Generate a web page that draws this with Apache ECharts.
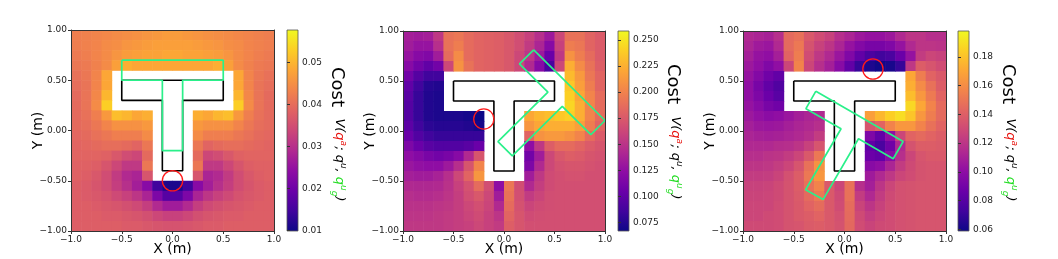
<!DOCTYPE html>
<html><head><meta charset="utf-8">
<script src="https://cdn.jsdelivr.net/npm/echarts@6/dist/echarts.min.js"></script>
<style>html,body{margin:0;padding:0;background:#fff}#c{width:1058px;height:259px}</style>
</head><body><div id="c"></div>
<script>
const _ = null;
// cell centres (m)
const xCenters = [-0.95,-0.85,-0.75,-0.65,-0.55,-0.45,-0.35,-0.25,-0.15,-0.05,0.05,0.15,0.25,0.35,0.45,0.55,0.65,0.75,0.85,0.95];
const yCenters = [0.95,0.85,0.75,0.65,0.55,0.45,0.35,0.25,0.15,0.05,-0.05,-0.15,-0.25,-0.35,-0.45,-0.55,-0.65,-0.75,-0.85,-0.95];
const axisTicks = [-1, -0.5, 0, 0.5, 1];

// cost values, rows top (y=0.95) to bottom (y=-0.95); null = obstacle (white)
const cost1 = [
[0.0424,0.0429,0.0433,0.0438,0.0443,0.0448,0.0452,0.0457,0.0462,0.0467,0.0467,0.0462,0.0457,0.0452,0.0448,0.0443,0.0438,0.0433,0.0429,0.0424],
[0.0424,0.0429,0.0433,0.0443,0.0448,0.0457,0.0462,0.0467,0.0472,0.0472,0.0472,0.0472,0.0467,0.0462,0.0457,0.0448,0.0443,0.0433,0.0429,0.0424],
[0.0419,0.0424,0.0433,0.0443,0.0457,0.0467,0.0472,0.0476,0.0476,0.0481,0.0481,0.0476,0.0476,0.0472,0.0467,0.0457,0.0443,0.0433,0.0424,0.0419],
[0.0414,0.0419,0.0429,0.0443,0.0472,0.0491,0.0481,0.0481,0.0481,0.0481,0.0481,0.0481,0.0481,0.0481,0.0491,0.0472,0.0443,0.0429,0.0419,0.0414],
[0.0405,0.0414,0.0433,0.0481,_,_,_,_,_,_,_,_,_,_,_,_,0.0481,0.0433,0.0414,0.0405],
[0.0400,0.0409,0.0433,0.0481,_,_,_,_,_,_,_,_,_,_,_,_,0.0481,0.0433,0.0409,0.0400],
[0.0395,0.0409,0.0438,0.0500,_,_,_,_,_,_,_,_,_,_,_,_,0.0500,0.0438,0.0409,0.0395],
[0.0395,0.0409,0.0443,0.0529,_,_,_,_,_,_,_,_,_,_,_,_,0.0529,0.0443,0.0409,0.0395],
[0.0395,0.0405,0.0424,0.0462,0.0510,0.0500,0.0481,0.0491,_,_,_,_,0.0491,0.0481,0.0500,0.0510,0.0462,0.0424,0.0405,0.0395],
[0.0395,0.0400,0.0414,0.0433,0.0452,0.0452,0.0452,0.0462,_,_,_,_,0.0462,0.0452,0.0452,0.0452,0.0433,0.0414,0.0400,0.0395],
[0.0390,0.0395,0.0405,0.0414,0.0424,0.0424,0.0424,0.0443,_,_,_,_,0.0443,0.0424,0.0424,0.0424,0.0414,0.0405,0.0395,0.0390],
[0.0385,0.0390,0.0395,0.0400,0.0400,0.0395,0.0385,0.0414,_,_,_,_,0.0414,0.0385,0.0395,0.0400,0.0400,0.0395,0.0390,0.0385],
[0.0385,0.0385,0.0385,0.0381,0.0366,0.0347,0.0338,0.0395,_,_,_,_,0.0395,0.0338,0.0347,0.0366,0.0381,0.0385,0.0385,0.0385],
[0.0381,0.0381,0.0376,0.0361,0.0338,0.0314,0.0314,0.0414,_,_,_,_,0.0414,0.0314,0.0314,0.0338,0.0361,0.0376,0.0381,0.0381],
[0.0381,0.0376,0.0366,0.0347,0.0318,0.0290,0.0280,0.0361,_,_,_,_,0.0361,0.0280,0.0290,0.0318,0.0347,0.0366,0.0376,0.0381],
[0.0376,0.0371,0.0361,0.0347,0.0323,0.0299,0.0270,0.0232,0.0146,0.0112,0.0112,0.0146,0.0232,0.0270,0.0299,0.0323,0.0347,0.0361,0.0371,0.0376],
[0.0376,0.0371,0.0366,0.0357,0.0342,0.0328,0.0309,0.0280,0.0218,0.0170,0.0170,0.0218,0.0280,0.0309,0.0328,0.0342,0.0357,0.0366,0.0371,0.0376],
[0.0376,0.0376,0.0371,0.0366,0.0361,0.0352,0.0342,0.0323,0.0290,0.0266,0.0266,0.0290,0.0323,0.0342,0.0352,0.0361,0.0366,0.0371,0.0376,0.0376],
[0.0376,0.0376,0.0376,0.0371,0.0371,0.0366,0.0361,0.0352,0.0338,0.0328,0.0328,0.0338,0.0352,0.0361,0.0366,0.0371,0.0371,0.0376,0.0376,0.0376],
[0.0376,0.0376,0.0376,0.0376,0.0376,0.0371,0.0371,0.0366,0.0361,0.0357,0.0357,0.0361,0.0366,0.0371,0.0371,0.0376,0.0376,0.0376,0.0376,0.0376]
];
const cost2 = [
[0.136,0.134,0.136,0.153,0.190,0.193,0.186,0.182,0.180,0.178,0.174,0.167,0.159,0.147,0.132,0.163,0.190,0.190,0.182,0.176],
[0.134,0.128,0.128,0.147,0.190,0.197,0.186,0.182,0.180,0.178,0.174,0.167,0.155,0.140,0.120,0.159,0.197,0.193,0.182,0.176],
[0.128,0.120,0.117,0.134,0.186,0.205,0.186,0.182,0.180,0.178,0.174,0.163,0.151,0.132,0.105,0.153,0.209,0.197,0.186,0.176],
[0.120,0.109,0.101,0.109,0.163,0.209,0.190,0.182,0.180,0.178,0.174,0.163,0.143,0.120,0.090,0.163,0.224,0.205,0.190,0.178],
[0.109,0.095,0.086,0.086,_,_,_,_,_,_,_,_,_,_,_,_,0.230,0.213,0.193,0.182],
[0.101,0.086,0.076,0.074,_,_,_,_,_,_,_,_,_,_,_,_,0.236,0.216,0.197,0.182],
[0.097,0.082,0.074,0.072,_,_,_,_,_,_,_,_,_,_,_,_,0.240,0.220,0.201,0.186],
[0.095,0.082,0.074,0.072,_,_,_,_,_,_,_,_,_,_,_,_,0.243,0.224,0.201,0.186],
[0.095,0.082,0.074,0.072,0.072,0.072,0.070,0.067,_,_,_,_,0.220,0.228,0.232,0.236,0.240,0.224,0.201,0.186],
[0.099,0.086,0.078,0.076,0.076,0.076,0.074,0.070,_,_,_,_,0.211,0.220,0.224,0.224,0.224,0.216,0.197,0.182],
[0.105,0.094,0.086,0.082,0.082,0.082,0.082,0.082,_,_,_,_,0.182,0.209,0.213,0.213,0.209,0.201,0.186,0.176],
[0.115,0.105,0.097,0.094,0.094,0.094,0.097,0.105,_,_,_,_,0.124,0.153,0.178,0.186,0.186,0.182,0.176,0.172],
[0.124,0.119,0.113,0.109,0.113,0.120,0.143,0.172,_,_,_,_,0.109,0.134,0.163,0.174,0.178,0.176,0.172,0.170],
[0.130,0.126,0.124,0.124,0.132,0.147,0.172,0.201,_,_,_,_,0.115,0.143,0.163,0.170,0.172,0.172,0.170,0.168],
[0.136,0.134,0.134,0.138,0.147,0.163,0.182,0.211,_,_,_,_,0.134,0.153,0.165,0.168,0.170,0.170,0.168,0.168],
[0.143,0.142,0.142,0.143,0.149,0.159,0.170,0.186,0.167,0.124,0.193,0.167,0.143,0.157,0.165,0.168,0.168,0.168,0.168,0.168],
[0.147,0.145,0.145,0.147,0.151,0.157,0.167,0.174,0.163,0.134,0.190,0.168,0.155,0.161,0.167,0.168,0.168,0.168,0.168,0.168],
[0.149,0.149,0.149,0.151,0.153,0.157,0.163,0.168,0.161,0.143,0.186,0.170,0.161,0.165,0.167,0.168,0.168,0.168,0.168,0.168],
[0.151,0.151,0.151,0.153,0.155,0.157,0.161,0.165,0.159,0.151,0.182,0.172,0.165,0.167,0.168,0.168,0.168,0.168,0.168,0.168],
[0.153,0.153,0.153,0.153,0.155,0.157,0.159,0.163,0.159,0.155,0.178,0.172,0.168,0.168,0.168,0.168,0.168,0.168,0.168,0.168]
];
const cost3 = [
[0.114,0.112,0.110,0.117,0.145,0.148,0.137,0.131,0.126,0.117,0.112,0.106,0.103,0.103,0.106,0.114,0.120,0.120,0.117,0.117],
[0.112,0.107,0.105,0.114,0.145,0.151,0.134,0.126,0.120,0.112,0.103,0.096,0.092,0.092,0.095,0.103,0.114,0.120,0.120,0.119],
[0.109,0.103,0.101,0.109,0.142,0.153,0.131,0.121,0.114,0.105,0.095,0.084,0.076,0.073,0.076,0.087,0.103,0.123,0.128,0.126],
[0.106,0.101,0.095,0.101,0.128,0.156,0.128,0.117,0.109,0.098,0.084,0.070,0.063,0.060,0.062,0.070,0.121,0.139,0.135,0.131],
[0.103,0.096,0.089,0.084,_,_,_,_,_,_,_,_,_,_,_,_,0.170,0.153,0.142,0.137],
[0.101,0.092,0.084,0.078,_,_,_,_,_,_,_,_,_,_,_,_,0.173,0.159,0.148,0.139],
[0.101,0.094,0.087,0.081,_,_,_,_,_,_,_,_,_,_,_,_,0.178,0.164,0.152,0.142],
[0.103,0.098,0.092,0.089,_,_,_,_,_,_,_,_,_,_,_,_,0.187,0.170,0.156,0.145],
[0.106,0.102,0.099,0.101,0.105,0.109,0.112,0.114,_,_,_,_,0.167,0.176,0.184,0.189,0.181,0.164,0.153,0.145],
[0.109,0.106,0.105,0.106,0.109,0.112,0.114,0.117,_,_,_,_,0.135,0.142,0.156,0.164,0.164,0.156,0.148,0.142],
[0.112,0.110,0.109,0.110,0.112,0.114,0.117,0.123,_,_,_,_,0.094,0.084,0.101,0.128,0.142,0.145,0.142,0.139],
[0.114,0.114,0.114,0.116,0.117,0.120,0.126,0.135,_,_,_,_,0.084,0.076,0.089,0.114,0.134,0.139,0.139,0.138],
[0.117,0.117,0.119,0.120,0.123,0.128,0.137,0.151,_,_,_,_,0.087,0.084,0.098,0.117,0.128,0.135,0.137,0.137],
[0.120,0.120,0.121,0.124,0.128,0.135,0.148,0.162,_,_,_,_,0.098,0.101,0.112,0.123,0.130,0.134,0.135,0.135],
[0.123,0.123,0.124,0.127,0.133,0.139,0.151,0.164,_,_,_,_,0.107,0.114,0.121,0.128,0.131,0.134,0.135,0.135],
[0.126,0.126,0.127,0.130,0.134,0.139,0.148,0.156,0.137,0.128,0.148,0.117,0.109,0.120,0.128,0.133,0.134,0.135,0.135,0.135],
[0.127,0.127,0.128,0.130,0.134,0.138,0.145,0.151,0.137,0.130,0.148,0.123,0.114,0.123,0.130,0.133,0.134,0.135,0.135,0.135],
[0.128,0.128,0.128,0.131,0.134,0.137,0.142,0.146,0.137,0.131,0.146,0.127,0.120,0.126,0.131,0.133,0.134,0.135,0.135,0.135],
[0.128,0.128,0.130,0.131,0.134,0.137,0.139,0.142,0.137,0.133,0.145,0.130,0.124,0.128,0.131,0.133,0.134,0.135,0.135,0.135],
[0.130,0.130,0.130,0.131,0.134,0.135,0.138,0.139,0.137,0.134,0.144,0.131,0.127,0.130,0.131,0.133,0.134,0.135,0.135,0.135]
];

// colour-bar ranges and ticks
const cbRange1 = [0.0098, 0.0577];
const cbTicks1 = [0.01, 0.02, 0.03, 0.04, 0.05];
const cbRange2 = [0.0666, 0.2587];
const cbTicks2 = [0.075, 0.100, 0.125, 0.150, 0.175, 0.200, 0.225, 0.250];
const cbRange3 = [0.0588, 0.198];
const cbTicks3 = [0.06, 0.08, 0.10, 0.12, 0.14, 0.16, 0.18];

// shapes (m)
const obstacleT = [[-0.5,0.5],[0.5,0.5],[0.5,0.3],[0.1,0.3],[0.1,-0.4],[-0.1,-0.4],[-0.1,0.3],[-0.5,0.3],[-0.5,0.5]];
const goal1 = [[-0.5,0.7],[0.5,0.7],[0.5,0.5],[0.1,0.5],[0.1,-0.2],[-0.1,-0.2],[-0.1,0.5],[-0.5,0.5],[-0.5,0.7]];
const goal2 = [[0.294,0.812],[1.0,0.105],[0.860,-0.036],[0.577,0.246],[0.082,-0.249],[-0.060,-0.107],[0.435,0.388],[0.153,0.671],[0.294,0.812]];
const goal3 = [[-0.282,0.398],[0.578,-0.105],[0.480,-0.277],[0.138,-0.077],[-0.210,-0.684],[-0.383,-0.588],[-0.034,0.022],[-0.380,0.223],[-0.282,0.398]];
// robot circle: [x, y, radius]
const robot1 = [0.0, -0.5, 0.1];
const robot2 = [-0.2, 0.12, 0.1];
const robot3 = [0.28, 0.62, 0.1];

const plasma = ['#0d0887','#41049d','#6a00a8','#8f0da4','#b12a90','#cc4778','#e16462','#f2844b','#fca636','#fcce25','#f0f921'];
const FONT = 'DejaVu Sans';
const TXT = '#222';

const panels = [
  {cost: cost1, range: cbRange1, ticks: cbTicks1, dec: 2, goal: goal1, robot: robot1,
   plot:{left:71,top:30,width:203,height:201}, cb:{left:287,top:30,width:11,height:201}, costPos:[337,87], exprPos:[339,160]},
  {cost: cost2, range: cbRange2, ticks: cbTicks2, dec: 3, goal: goal2, robot: robot2,
   plot:{left:403,top:31,width:202,height:200}, cb:{left:618,top:31,width:11,height:200}, costPos:[673,84], exprPos:[675,158]},
  {cost: cost3, range: cbRange3, ticks: cbTicks3, dec: 2, goal: goal3, robot: robot3,
   plot:{left:743,top:31,width:203,height:200}, cb:{left:958,top:31,width:11,height:200}, costPos:[1008,84], exprPos:[1010,160]}
];

const cellSize = xCenters[1] - xCenters[0];
const fmt = (d) => (v) => Number(v).toFixed(d).replace('-', '\u2212');

const grid = [], xAxis = [], yAxis = [], series = [], visualMap = [], graphic = [];
panels.forEach((p, i) => {
  const gPlot = grid.length;
  grid.push(Object.assign({show:false, outerBoundsMode:'none', containLabel:false}, p.plot));
  const gCb = grid.length;
  grid.push(Object.assign({show:false, outerBoundsMode:'none', containLabel:false}, p.cb));

  const xb = xAxis.length;
  xAxis.push({gridIndex:gPlot, type:'value', position:'bottom', min:axisTicks[0], max:axisTicks[axisTicks.length-1], interval:0.5, z:10,
    name:'X (m)', nameLocation:'middle', nameGap:11, nameMoveOverlap:false, nameTextStyle:{fontFamily:FONT, fontSize:14, color:'#000'},
    axisLine:{show:true, onZero:false, lineStyle:{color:'#333', width:1}},
    axisTick:{show:true, inside:false, length:3, lineStyle:{color:'#333'}},
    axisLabel:{fontFamily:FONT, fontSize:9, color:TXT, margin:4, formatter: fmt(1)},
    splitLine:{show:false}});
  xAxis.push({gridIndex:gPlot, type:'value', position:'top', min:-1, max:1, z:10,
    axisLine:{show:true, onZero:false, lineStyle:{color:'#333', width:1}}, axisTick:{show:false}, axisLabel:{show:false}, splitLine:{show:false}});
  const xc = xAxis.length;
  xAxis.push({gridIndex:gCb, type:'value', min:0, max:1, show:false});

  const yl = yAxis.length;
  yAxis.push({gridIndex:gPlot, type:'value', position:'left', min:axisTicks[0], max:axisTicks[axisTicks.length-1], interval:0.5, z:10,
    name:'Y (m)', nameLocation:'middle', nameGap:26, nameMoveOverlap:false, nameRotate:90, nameTextStyle:{fontFamily:FONT, fontSize:14, color:'#000'},
    axisLine:{show:true, onZero:false, lineStyle:{color:'#333', width:1}},
    axisTick:{show:true, inside:false, length:3, lineStyle:{color:'#333'}},
    axisLabel:{fontFamily:FONT, fontSize:9, color:TXT, margin:4, formatter: fmt(2)},
    splitLine:{show:false}});
  yAxis.push({gridIndex:gPlot, type:'value', position:'right', min:-1, max:1, z:10,
    axisLine:{show:true, onZero:false, lineStyle:{color:'#333', width:1}}, axisTick:{show:false}, axisLabel:{show:false}, splitLine:{show:false}});
  const yc = yAxis.length;
  yAxis.push({gridIndex:gCb, type:'value', position:'right', min:p.range[0], max:p.range[1], z:10,
    axisLine:{show:false},
    axisTick:{show:true, inside:false, length:3, customValues:p.ticks, lineStyle:{color:'#333'}},
    axisLabel:{fontFamily:FONT, fontSize:9, color:TXT, margin:4, customValues:p.ticks, formatter: fmt(p.dec)},
    splitLine:{show:false}});

  // heat map cells
  const data = [];
  p.cost.forEach((row, r) => row.forEach((v, c) => { if (v !== null) data.push([xCenters[c], yCenters[r], v]); }));
  const heatIdx = series.length;
  series.push({type:'custom', xAxisIndex:xb, yAxisIndex:yl, clip:true, silent:true, z:1, data,
    renderItem:(params, api) => {
      const x = api.value(0), y = api.value(1), h = cellSize/2;
      const a = api.coord([x - h, y + h]), b = api.coord([x + h, y - h]);
      return {type:'rect', shape:{x:a[0], y:a[1], width:b[0]-a[0]+0.6, height:b[1]-a[1]+0.6}, style:{fill:api.visual('color')}};
    }});
  visualMap.push({type:'continuous', show:false, seriesIndex:heatIdx, dimension:2, min:p.range[0], max:p.range[1], inRange:{color:plasma}});

  // obstacle & goal outlines
  series.push({type:'line', xAxisIndex:xb, yAxisIndex:yl, data:obstacleT, symbol:'none', silent:true, z:5, clip:false,
    lineStyle:{color:'#000', width:1.6}});
  series.push({type:'line', xAxisIndex:xb, yAxisIndex:yl, data:p.goal, symbol:'none', silent:true, z:6, clip:false,
    lineStyle:{color:'#2af08a', width:1.7}});
  // robot circle
  series.push({type:'custom', xAxisIndex:xb, yAxisIndex:yl, silent:true, z:7, data:[p.robot],
    renderItem:(params, api) => {
      const c = api.coord([api.value(0), api.value(1)]);
      const r = api.size([api.value(2), 0])[0];
      return {type:'circle', shape:{cx:c[0], cy:c[1], r:r}, style:{fill:null, stroke:'#ff1a1a', lineWidth:1.3}};
    }});
  // colour bar
  series.push({type:'custom', xAxisIndex:xc, yAxisIndex:yc, silent:true, z:3, data:[[0, p.range[0], p.range[1]]],
    renderItem:(params, api) => {
      const a = api.coord([0, api.value(2)]), b = api.coord([1, api.value(1)]);
      const stops = plasma.map((col, k) => ({offset: 1 - k/(plasma.length-1), color: col})).reverse();
      return {type:'rect', shape:{x:a[0], y:a[1], width:b[0]-a[0], height:b[1]-a[1]},
        style:{fill:new echarts.graphic.LinearGradient(0,0,0,1,stops), stroke:'#555', lineWidth:0.8}};
    }});

  graphic.push({type:'text', x:p.costPos[0], y:p.costPos[1], rotation:-Math.PI/2,
    style:{text:'Cost', fontFamily:FONT, fontSize:18, fill:'#000', align:'center', verticalAlign:'middle'}});
  const base = {fontFamily:FONT, fontSize:13, fontStyle:'italic', lineHeight:18};
  const sup = {fontFamily:FONT, fontSize:9, fontStyle:'italic', lineHeight:18, verticalAlign:'top'};
  const sub = {fontFamily:FONT, fontSize:9, fontStyle:'italic', lineHeight:18, verticalAlign:'bottom'};
  graphic.push({type:'text', x:p.exprPos[0], y:p.exprPos[1], rotation:-Math.PI/2,
    style:{text:'{k|V(}{r|q}{rs|a}{k|; q}{ks|u}{k|, }{g|q}{gs|u}{gb|g}{k|)}', align:'center', verticalAlign:'middle',
      rich:{
        k:Object.assign({fill:'#000'}, base), ks:Object.assign({fill:'#000'}, sup),
        r:Object.assign({fill:'#e8140f'}, base), rs:Object.assign({fill:'#e8140f'}, sup),
        g:Object.assign({fill:'#22dd22'}, base), gs:Object.assign({fill:'#22dd22'}, sup), gb:Object.assign({fill:'#22dd22'}, sub)
      }}});
});

const chart = echarts.init(document.getElementById('c'), null, {renderer:'canvas'});
chart.setOption({animation:false, backgroundColor:'#fff', grid, xAxis, yAxis, visualMap, series, graphic});
</script>
</body></html>
